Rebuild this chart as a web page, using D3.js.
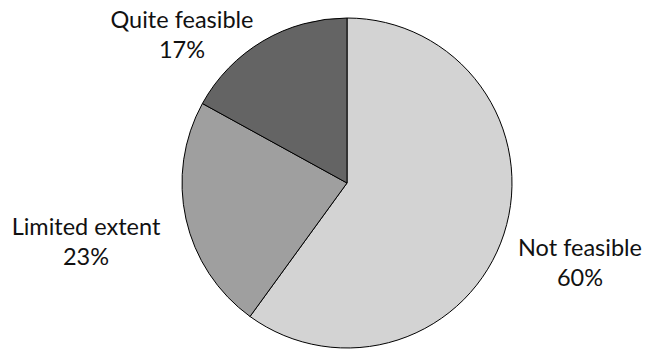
<!DOCTYPE html>
<html lang="en">
<head>
    <meta charset="UTF-8">
    <title>Feasibility pie</title>
    <script src="https://d3js.org/d3.v7.min.js"></script>
    <style>
        body { margin: 0; background: #fff; }
        svg { display: block; }
        text { font-family: Lato, "Open Sans", sans-serif; fill: #111; }
    </style>
</head>
<body>
    <svg width="645" height="349"></svg>
    <script>
        // Data
        const categories = ["Not feasible", "Limited extent", "Quite feasible"];
        const shares = [60, 23, 17];
        const colours = ["#d3d3d3", "#9f9f9f", "#646464"];
        // label anchor per slice (centre x, first baseline y)
        const labelPos = [[580, 256], [86, 235], [182, 28]];

        const cx = 347, cy = 183, r = 165;
        const svg = d3.select("svg");
        const g = svg.append("g").attr("transform", `translate(${cx},${cy})`);

        const pie = d3.pie().sort(null).value(d => d);
        const arc = d3.arc().innerRadius(0).outerRadius(r);

        g.selectAll("path")
            .data(pie(shares))
            .join("path")
            .attr("d", arc)
            .attr("fill", (d, i) => colours[i])
            .attr("stroke", "#000")
            .attr("stroke-width", 1);

        const labels = svg.selectAll("text.lbl")
            .data(categories)
            .join("text")
            .attr("class", "lbl")
            .attr("text-anchor", "middle")
            .attr("font-size", 23.5)
            .attr("x", (d, i) => labelPos[i][0])
            .attr("y", (d, i) => labelPos[i][1]);
        labels.append("tspan").text(d => d);
        labels.append("tspan")
            .attr("x", (d, i) => labelPos[i][0])
            .attr("dy", 30)
            .text((d, i) => shares[i] + "%");
    </script>
</body>
</html>
